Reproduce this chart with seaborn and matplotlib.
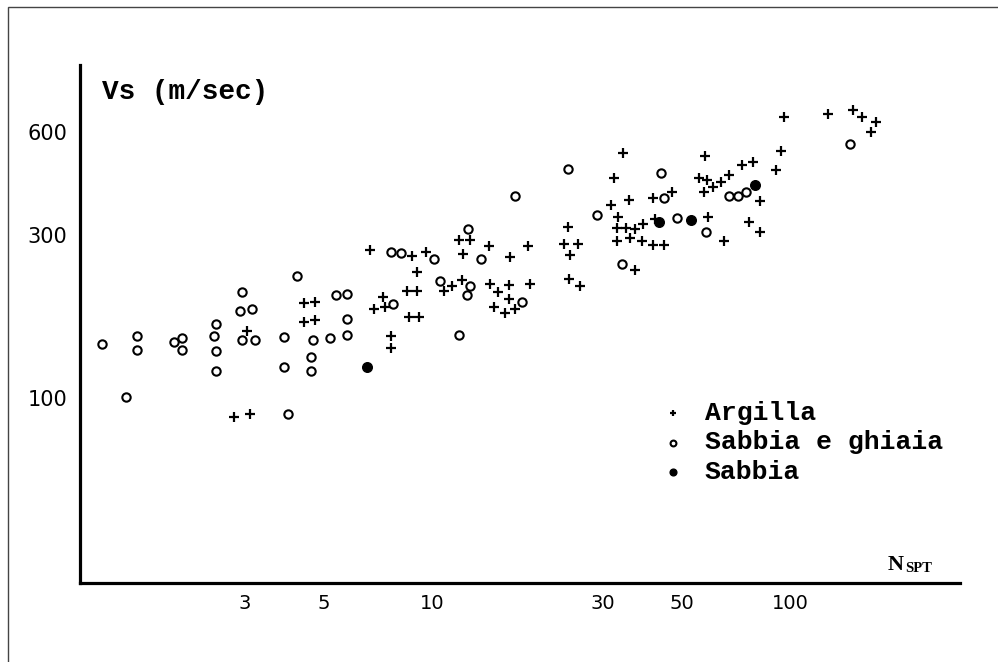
import matplotlib
matplotlib.use("Agg")
import pandas as pd
import seaborn as sns
import matplotlib.pyplot as plt
from matplotlib.patches import Rectangle
from matplotlib.ticker import NullLocator

# ------ dati (N_SPT, Vs in m/sec) ------ #
argilla_n = [3.05, 2.8, 3.1, 4.4, 4.7, 4.4, 4.7, 6.7, 8.8, 9.6, 9.1, 8.5, 9.1, 7.3,
             6.9, 7.4, 8.6, 9.2, 7.7, 7.7, 11.4, 12.1, 10.8, 11.9, 12.8, 12.2, 14.4,
             16.5, 18.5, 14.5, 15.3, 16.4, 16.4, 18.8, 14.9, 16.0, 17.1, 23.9, 23.3,
             25.5, 24.3, 24.2, 25.9, 32.3, 34.1, 35.5, 31.6, 33.0, 32.9, 34.7, 36.9,
             38.9, 32.9, 35.6, 38.5, 41.4, 44.5, 36.9, 41.4, 46.7, 42.0, 58.9, 65.2,
             57.9, 55.5, 58.5, 60.7, 57.3, 64.0, 67.6, 73.3, 78.7, 94.0, 91.4, 82.5,
             76.9, 82.5, 96.0, 127.5, 150.0, 158.5, 174.0, 168.0]
argilla_vs = [157, 88, 90, 190, 191, 167, 169, 270, 260, 268, 233, 205, 205, 198,
              182, 184, 172, 173, 152, 140, 213, 222, 205, 289, 290, 263, 278,
              258, 278, 215, 204, 214, 195, 215, 185, 177, 182, 317, 282,
              283, 262, 223, 212, 439, 522, 379, 366, 338, 315, 315, 311,
              323, 288, 294, 288, 281, 280, 236, 385, 399, 333, 338, 288,
              510, 439, 434, 415, 399, 427, 449, 480, 491, 528, 464, 378,
              326, 306, 662, 675, 695, 663, 640, 601]

ghiaia_n = [1.2, 1.5, 1.5, 1.4, 1.9, 2.0, 2.0, 2.5, 2.46, 2.5, 2.5, 2.95, 2.9, 3.15,
            2.95, 3.2, 3.85, 3.85, 3.95, 4.2, 4.65, 4.6, 4.6, 5.2, 5.4, 5.8, 5.8,
            5.8, 7.7, 8.2, 10.1, 7.8, 10.5, 11.9, 12.6, 12.8, 12.5, 13.7, 17.1,
            17.8, 24.0, 28.9, 33.9, 43.6, 44.3, 48.4, 58.3, 67.7, 71.4, 75.4, 147.0]
ghiaia_vs = [144, 152, 138, 101, 146, 150, 138, 165, 152, 137, 120, 204, 180, 182,
             148, 148, 151, 123, 90, 227, 148, 132, 120, 150, 200, 201, 170,
             153, 268, 266, 255, 188, 220, 153, 313, 213, 200, 255, 389,
             191, 466, 344, 247, 454, 384, 335, 306, 390, 390, 399, 553]

sabbia_n = [6.6, 43.0, 53.0, 80.0]
sabbia_vs = [123, 328, 331, 420]

x_ticks = [3, 5, 10, 30, 50, 100]
y_ticks = [100, 300, 600]

df_arg = pd.DataFrame({"N": argilla_n, "Vs": argilla_vs})
df_ghi = pd.DataFrame({"N": ghiaia_n, "Vs": ghiaia_vs})
df_sab = pd.DataFrame({"N": sabbia_n, "Vs": sabbia_vs})

sns.set_style("white")
plt.rcParams["font.family"] = ["DejaVu Sans"]
plt.rcParams["text.color"] = "black"
plt.rcParams["xtick.color"] = "black"
plt.rcParams["ytick.color"] = "black"
plt.rcParams["axes.labelcolor"] = "black"

fig = plt.figure(figsize=(9.98, 6.62), dpi=100, facecolor="w")
ax = fig.add_axes([80 / 998, 79 / 662, 880 / 998, 518 / 662])

sns.scatterplot(data=df_arg, x="N", y="Vs", marker="+", color="black", s=45,
                linewidth=1.6, label="Argilla", ax=ax)
sns.scatterplot(data=df_ghi, x="N", y="Vs", marker="o", facecolor="white",
                edgecolor="black", s=36, linewidth=1.5, label="Sabbia e ghiaia", ax=ax)
sns.scatterplot(data=df_sab, x="N", y="Vs", marker="o", color="black",
                edgecolor="black", s=48, linewidth=1, label="Sabbia", ax=ax)

ax.set_xscale("log")
ax.set_yscale("log")
ax.set_xlim(1.04, 298)
ax.set_ylim(28.8, 941)
ax.set_xticks(x_ticks)
ax.set_xticklabels([str(v) for v in x_ticks])
ax.set_yticks(y_ticks)
ax.set_yticklabels([str(v) for v in y_ticks])
ax.xaxis.set_minor_locator(NullLocator())
ax.yaxis.set_minor_locator(NullLocator())
ax.set_xlabel("")
ax.set_ylabel("")

for side in ["top", "right"]:
    ax.spines[side].set_visible(False)
for side in ["left", "bottom"]:
    ax.spines[side].set_linewidth(2.3)
    ax.spines[side].set_color("black")
ax.tick_params(axis="both", direction="in", length=10, width=1.8, color="black",
               labelcolor="black")
ax.tick_params(axis="x", labelsize=14, pad=8)
ax.tick_params(axis="y", labelsize=15, pad=9)

# ------ etichette degli assi ------ #
ax.text(102 / 998, 1 - 92 / 662, "Vs (m/sec)", transform=fig.transFigure,
        family="Liberation Mono", fontweight="bold", fontsize=20, va="center", ha="left",
        color="black")
n_txt = ax.text(888 / 998, 1 - 570 / 662, "N", transform=fig.transFigure,
                family="Liberation Serif", fontweight="bold", fontsize=16,
                va="baseline", ha="left", color="black")
ax.annotate("SPT", xy=(1, 0), xycoords=n_txt, xytext=(1, 0), textcoords="offset points",
            family="Liberation Serif", fontweight="bold", fontsize=10.5,
            va="bottom", ha="left", color="black")

ax.legend(loc="upper left", bbox_to_anchor=(0.659, 0.352), frameon=False,
          prop={"family": "Liberation Mono", "weight": "bold", "size": 19},
          borderpad=0, borderaxespad=0, labelspacing=0.22, handlelength=1,
          handletextpad=0.7, markerscale=0.7, labelcolor="black")

# ------ cornice della figura ------ #
fig.add_artist(Rectangle((8 / 998, -0.05), 1.2, 1.05 - 7 / 662, transform=fig.transFigure,
                         fill=False, edgecolor="#444444", linewidth=1))

plt.savefig("out.png", dpi=100)
